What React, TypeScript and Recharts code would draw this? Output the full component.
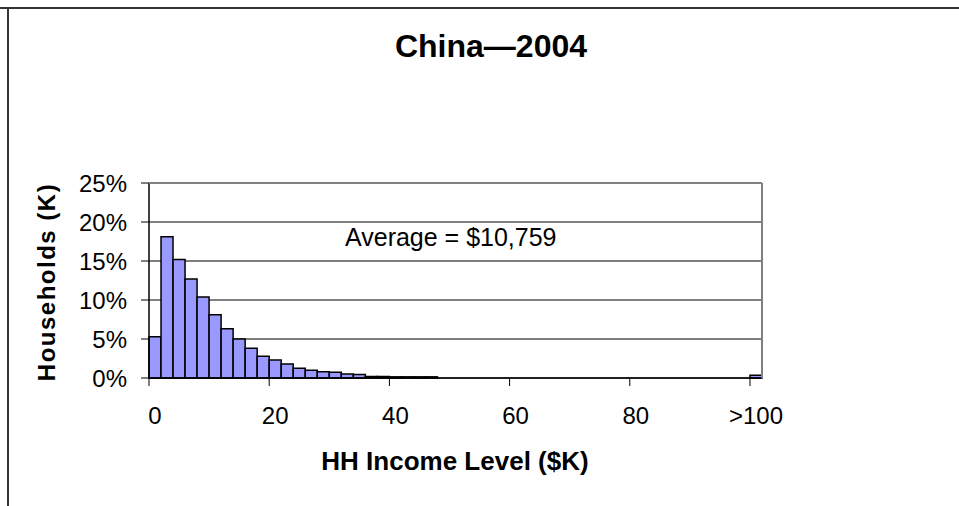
import React from 'react'
import { BarChart, Bar, XAxis, YAxis, CartesianGrid } from 'recharts'

// income bins, 2K each, last one open-ended
const bins = [
  '0', '2', '4', '6', '8', '10', '12', '14', '16', '18',
  '20', '22', '24', '26', '28', '30', '32', '34', '36', '38',
  '40', '42', '44', '46', '48', '50', '52', '54', '56', '58',
  '60', '62', '64', '66', '68', '70', '72', '74', '76', '78',
  '80', '82', '84', '86', '88', '90', '92', '94', '96', '98',
  '>100',
]

// share of households (%)
const share = [
  5.3, 18.1, 15.2, 12.7, 10.4, 8.1, 6.3, 5.0, 3.8, 2.8,
  2.3, 1.8, 1.25, 1.0, 0.8, 0.75, 0.5, 0.45, 0.2, 0.2,
  0.15, 0.15, 0.15, 0.15, 0, 0, 0, 0, 0, 0,
  0, 0, 0, 0, 0, 0, 0, 0, 0, 0,
  0, 0, 0, 0, 0, 0, 0, 0, 0, 0,
  0.35,
]

const yTicks = [0, 5, 10, 15, 20, 25]

const data = bins.map((bin, i) => ({ bin, share: share[i] }))

const W = 959
const H = 506
const PLOT_LEFT = 149
const PLOT_RIGHT = 762
const PLOT_TOP = 183
const PLOT_BOTTOM = 378
const FONT = '"Liberation Sans", Arial, sans-serif'
const HALF_BAND = (PLOT_RIGHT - PLOT_LEFT) / bins.length / 2

function XTick(props: any) {
  const { x, y, payload } = props
  const bx = x - HALF_BAND
  return (
    <g>
      <line x1={bx} x2={bx} y1={y} y2={y + 8} stroke="#000" strokeWidth={1} />
      <text x={x} y={y + 46} textAnchor="middle" fontSize={24} fontFamily={FONT} fill="#000">
        {payload.value}
      </text>
    </g>
  )
}

export default function App() {
  return (
    <div style={{ position: 'absolute', left: 0, top: 0, width: W, height: H, background: '#fff' }}>
      <BarChart
        width={W}
        height={H}
        data={data}
        barCategoryGap={0}
        margin={{ top: PLOT_TOP, right: W - PLOT_RIGHT, left: 0, bottom: 0 }}
      >
        <CartesianGrid vertical={false} stroke="#000" strokeWidth={1} />
        <XAxis
          dataKey="bin"
          interval={9}
          height={H - PLOT_BOTTOM}
          tickSize={0}
          tickMargin={0}
          tickLine={false}
          axisLine={{ stroke: '#000', strokeWidth: 1.5 }}
          tick={<XTick />}
        />
        <YAxis
          width={PLOT_LEFT}
          domain={[0, 25]}
          ticks={yTicks}
          tickFormatter={(v) => `${v}%`}
          tickSize={8}
          tickMargin={14}
          tickLine={{ stroke: '#000' }}
          axisLine={{ stroke: '#000', strokeWidth: 1.5 }}
          tick={{ fontSize: 24, fontFamily: FONT, fill: '#000' }}
        />
        <Bar dataKey="share" fill="#9999FF" stroke="#000" strokeWidth={1.5} isAnimationActive={false} />
      </BarChart>
      <svg
        width={W}
        height={H}
        style={{ position: 'absolute', left: 0, top: 0, pointerEvents: 'none' }}
      >
        <line x1={0} x2={W} y1={8} y2={8} stroke="#333" strokeWidth={2} />
        <line x1={8} x2={8} y1={7} y2={H} stroke="#333" strokeWidth={2} />
        <line x1={PLOT_LEFT} x2={PLOT_RIGHT} y1={PLOT_TOP} y2={PLOT_TOP} stroke="#808080" strokeWidth={2} />
        <line x1={PLOT_RIGHT} x2={PLOT_RIGHT} y1={PLOT_TOP} y2={PLOT_BOTTOM} stroke="#808080" strokeWidth={2} />
        <text x={491} y={57} textAnchor="middle" fontSize={32} fontWeight="bold" fontFamily={FONT} fill="#000">
          China—2004
        </text>
        <text x={345} y={246} fontSize={25} fontFamily={FONT} fill="#000">
          Average = $10,759
        </text>
        <text x={455} y={470} textAnchor="middle" fontSize={26} fontWeight="bold" fontFamily={FONT} fill="#000">
          HH Income Level ($K)
        </text>
        <text
          x={0}
          y={0}
          transform="translate(55, 282) rotate(-90)"
          textAnchor="middle"
          fontSize={24}
          fontWeight="bold"
          letterSpacing={1.5}
          fontFamily={FONT}
          fill="#000"
        >
          Households (K)
        </text>
      </svg>
    </div>
  )
}
